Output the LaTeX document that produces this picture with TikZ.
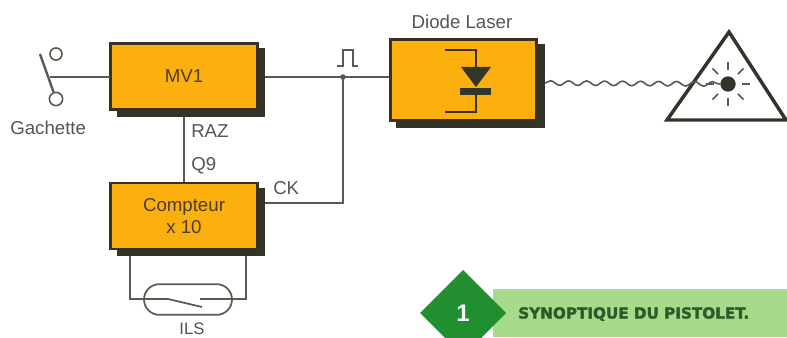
\documentclass[tikz,border=0pt]{standalone}
\usepackage{fontspec}
\setmainfont{Liberation Sans}
\newfontfamily\bannerfont[BoldFeatures={FakeBold=2}]{DejaVu Sans}
\usetikzlibrary{decorations.pathmorphing,calc}
\definecolor{boxfill}{HTML}{FCB00F}
\definecolor{boxedge}{HTML}{3A3020}
\definecolor{darkshade}{HTML}{33352A}
\definecolor{wirecol}{HTML}{5A5A50}
\definecolor{lab}{HTML}{55564E}
\definecolor{bannerg}{HTML}{A5DB8B}
\definecolor{diamg}{HTML}{1F8F2F}
\definecolor{bantxt}{HTML}{2F5A28}
\tikzset{
  x=0.75pt,y=-0.75pt,
  wireline/.style={draw=wirecol,line width=1.3pt},
  blockbox/.style={draw=boxedge,fill=boxfill,line width=2.2pt,inner sep=0pt,outer sep=0pt,text=boxedge!90!boxfill,font=\fontsize{14}{16}\selectfont,align=center},
  lbl/.style={text=lab,font=\fontsize{14}{16}\selectfont,inner sep=0pt},
  contact/.style={circle,draw=wirecol,fill=white,line width=1.2pt,inner sep=0pt},
}
\begin{document}
\begin{tikzpicture}
\useasboundingbox[fill=white] (0,0) rectangle (787,338);

% shadows
\fill[darkshade] (117,48) rectangle (265,117);
\fill[darkshade] (396,44) rectangle (545,128);
\fill[darkshade] (117,188) rectangle (265,256);

% blocks
\node[blockbox,minimum width=110pt,minimum height=50pt] (mv) at (184,76.5) {MV1};
\node[blockbox,minimum width=110pt,minimum height=61pt] (dl) at (463.5,80) {};
\node[blockbox,minimum width=110pt,minimum height=49.5pt] (cpt) at (184,216) {Compteur\\[1pt]x 10};

% switch
\node[contact,minimum size=9pt] (ctop) at (56,54) {};
\node[contact,minimum size=10pt] (cbot) at (56,99) {};
\coordinate (bladetop) at (40,54);
\draw[draw=wirecol,line width=1.8pt] (bladetop) -- (cbot);
\coordinate (swj) at (50,77);
\coordinate (mvl) at (110,77);
\draw[wireline] (swj) -- (mvl);

% main line
\coordinate (mvr) at (265,77);
\coordinate (dll) at (389,77);
\coordinate (junc) at (343,77);
\coordinate (ck) at (343,203);
\coordinate (cptr) at (265,203);
\draw[wireline] (mvr) -- (dll);
\draw[wireline] (junc) -- (ck) -- (cptr);
\fill[wirecol] (junc) circle (2.8);

% pulse
\coordinate (p0) at (337,66);
\coordinate (p1) at (358,66);
\draw[draw=wirecol,line width=1.2pt] (p0) -- (343,66) -- (343,50) -- (353,50) -- (353,66) -- (p1);

% RAZ
\coordinate (razt) at (184,117);
\coordinate (razb) at (184,182);
\draw[wireline] (razt) -- (razb);

% Labels
\node[lbl,anchor=west] (lg) at (10,128) {Gachette};
\node[lbl,anchor=west] (lraz) at (191,131) {RAZ};
\node[lbl,anchor=west] (lq) at (191,166) {Q9};
\node[lbl,anchor=west] (lck) at (273,188) {CK};
\node[lbl] (ldl) at (462,22) {Diode Laser};
\node[lbl,font=\fontsize{12.5}{14}\selectfont] (lils) at (192,329) {ILS};

% diode symbol
\draw[draw=boxedge,line width=1.4pt] (445,50) -- (476,50) -- (476,67);
\fill[darkshade] (461,67) -- (491,67) -- (476,87) -- cycle;
\fill[darkshade] (460,88) rectangle (491,95);
\draw[draw=boxedge,line width=1.4pt] (476,95) -- (476,112) -- (445,112);

% triangle
\coordinate (ta) at (729,32);
\coordinate (tl) at (667,120);
\coordinate (tr) at (786,120);
\draw[draw=darkshade,line width=2.6pt,line join=miter] (ta) -- (tl) -- (tr) -- cycle;

% wave
\coordinate (w0) at (545,83);
\node[circle,fill=darkshade,minimum size=11.5pt,inner sep=0pt] (sun) at (728,84) {};
\draw[draw=wirecol,line width=1.2pt,decorate,decoration={snake,amplitude=1.7,segment length=13.5}] (w0) -- (sun);
% rays
\foreach \a in {0,45,...,315}{
  \draw[draw=wirecol,line width=1.2pt] ($(sun)+(\a:14)$) -- ($(sun)+(\a:22)$);
}

% ILS
\coordinate (il) at (130,256);
\coordinate (ir) at (246,256);
\coordinate (ilb) at (130,299);
\coordinate (irb) at (246,299);
\coordinate (c1) at (168,299);
\coordinate (c2) at (202,307);
\coordinate (c3) at (200,299);
\node[draw=wirecol,line width=1.3pt,rounded corners=11.5pt,minimum width=66pt,minimum height=23pt,inner sep=0pt] (caps) at (188,299.5) {};
\draw[wireline] (il) -- (ilb) -- (c1) -- (c2);
\draw[wireline] (ir) -- (irb) -- (c3);

% banner
\fill[bannerg] (493,289) rectangle (787,337);
\fill[diamg] (463,270) -- (506,313) -- (463,356) -- (420,313) -- cycle;
\node[text=white,font=\bfseries\fontsize{18}{20}\selectfont,inner sep=0pt] (num) at (463,313) {1};
\node[anchor=west,text=bantxt,inner sep=0pt,font=\bannerfont\bfseries\fontsize{11.4}{14}\selectfont] (ban) at (518,314) {SYNOPTIQUE DU PISTOLET.};
\end{tikzpicture}
\end{document}
